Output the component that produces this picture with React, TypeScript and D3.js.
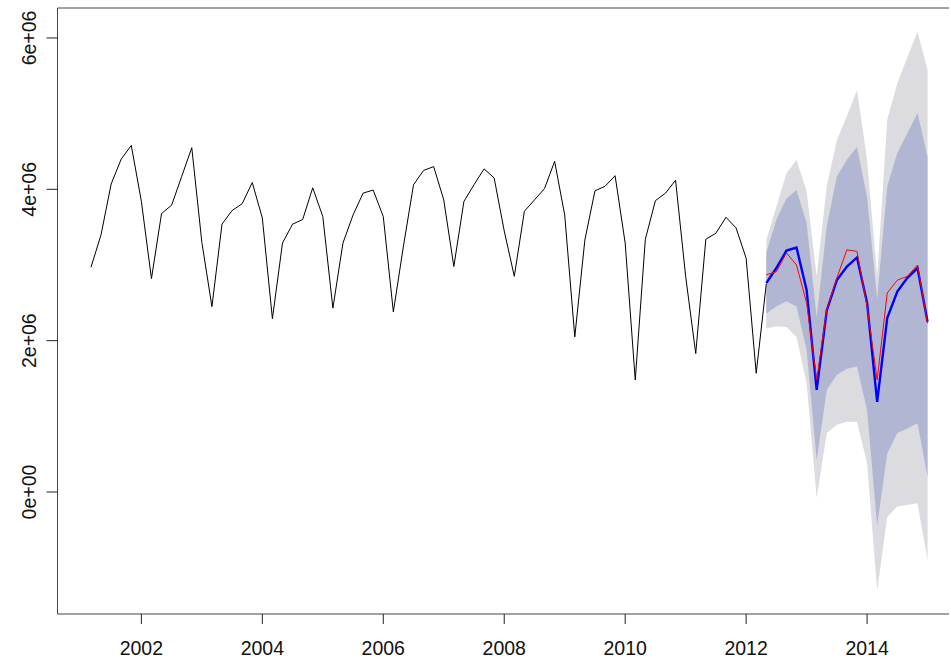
import React from "react";
import * as d3 from "d3";

// Bimonthly series (frequency 6), first observation at 2001 + 1/6
const FREQ = 6;
const OBS_START = 2001 + 1 / 6;
const FC_START = 2012 + 2 / 6;

// Observed values
const observed = [
  2.97e6, 3.4e6, 4.07e6, 4.4e6, 4.58e6, 3.84e6,
  2.82e6, 3.68e6, 3.79e6, 4.17e6, 4.55e6, 3.3e6,
  2.45e6, 3.54e6, 3.72e6, 3.81e6, 4.09e6, 3.62e6,
  2.29e6, 3.29e6, 3.54e6, 3.6e6, 4.02e6, 3.64e6,
  2.43e6, 3.29e6, 3.66e6, 3.95e6, 3.99e6, 3.64e6,
  2.38e6, 3.25e6, 4.06e6, 4.25e6, 4.3e6, 3.86e6,
  2.98e6, 3.84e6, 4.06e6, 4.27e6, 4.15e6, 3.45e6,
  2.85e6, 3.71e6, 3.86e6, 4.01e6, 4.37e6, 3.66e6,
  2.05e6, 3.33e6, 3.98e6, 4.04e6, 4.18e6, 3.29e6,
  1.48e6, 3.34e6, 3.85e6, 3.95e6, 4.12e6, 2.85e6,
  1.83e6, 3.34e6, 3.42e6, 3.63e6, 3.49e6, 3.09e6,
  1.57e6, 2.75e6,
];

// Point forecasts
const fcMean = [
  2.76e6, 2.96e6, 3.19e6, 3.23e6, 2.67e6, 1.35e6, 2.4e6, 2.8e6, 2.98e6,
  3.1e6, 2.5e6, 1.19e6, 2.3e6, 2.65e6, 2.83e6, 2.96e6, 2.25e6,
];

// Actual values over the forecast horizon
const actual = [
  2.87e6, 2.91e6, 3.16e6, 3.0e6, 2.5e6, 1.48e6, 2.41e6, 2.83e6, 3.2e6,
  3.18e6, 2.45e6, 1.48e6, 2.63e6, 2.8e6, 2.85e6, 3.0e6, 2.23e6,
];

// Prediction intervals
const hi95 = [
  3.33e6, 3.77e6, 4.21e6, 4.39e6, 3.97e6, 2.85e6, 4.04e6, 4.65e6, 4.97e6,
  5.31e6, 4.39e6, 2.85e6, 4.92e6, 5.4e6, 5.75e6, 6.08e6, 5.58e6,
];
const hi80 = [
  3.16e6, 3.6e6, 3.88e6, 3.99e6, 3.55e6, 2.31e6, 3.51e6, 4.17e6, 4.39e6,
  4.56e6, 3.9e6, 2.55e6, 4.04e6, 4.48e6, 4.74e6, 5.01e6, 4.43e6,
];
const lo80 = [
  2.36e6, 2.45e6, 2.52e6, 2.45e6, 1.88e6, 0.42e6, 1.35e6, 1.55e6, 1.63e6,
  1.66e6, 1.08e6, -0.44e6, 0.51e6, 0.78e6, 0.84e6, 0.91e6, 0.2e6,
];
const lo95 = [
  2.16e6, 2.19e6, 2.18e6, 2.05e6, 1.44e6, -0.08e6, 0.78e6, 0.89e6, 0.93e6,
  0.93e6, 0.38e6, -1.3e6, -0.33e6, -0.19e6, -0.17e6, -0.15e6, -0.9e6,
];

const xTicks = [2002, 2004, 2006, 2008, 2010, 2012, 2014];
const yTicks = [0, 2e6, 4e6, 6e6];
const yTickLabels = ["0e+00", "2e+06", "4e+06", "6e+06"];

const W = 951;
const H = 661;
const LEFT = 57.5;
const TOP = 8;
const BOTTOM = 614;
const RIGHT = 961;

export default function App() {
  const x = d3.scaleLinear().domain([2000.613, 2015.553]).range([LEFT, RIGHT]);
  const y = d3.scaleLinear().domain([-1.612e6, 6.396e6]).range([BOTTOM, TOP]);

  const obsPts: [number, number][] = observed.map((v, i) => [OBS_START + i / FREQ, v]);
  const fcT = fcMean.map((_, i) => FC_START + i / FREQ);

  const line = d3
    .line<[number, number]>()
    .x((d) => x(d[0]))
    .y((d) => y(d[1]));

  const band95 = d3
    .area<number>()
    .x((_, i) => x(fcT[i]))
    .y0((_, i) => y(lo95[i]))
    .y1((_, i) => y(hi95[i]))(fcMean) as string;
  const band80 = d3
    .area<number>()
    .x((_, i) => x(fcT[i]))
    .y0((_, i) => y(lo80[i]))
    .y1((_, i) => y(hi80[i]))(fcMean) as string;

  const meanPath = line(fcMean.map((v, i) => [fcT[i], v])) as string;
  const actualPath = line(actual.map((v, i) => [fcT[i], v])) as string;
  const obsPath = line(obsPts) as string;

  const font = "'Liberation Sans', Arial, Helvetica, sans-serif";
  const fs = 19.5;

  return (
    <svg
      width={W}
      height={H}
      style={{ position: "absolute", left: 0, top: 0, background: "#fff" }}
    >
      <defs>
        <clipPath id="plot-clip">
          <rect x={LEFT} y={TOP} width={949 - LEFT} height={BOTTOM - TOP} />
        </clipPath>
      </defs>
      <rect x={0} y={0} width={W} height={H} fill="#fff" />
      <g clipPath="url(#plot-clip)">
        <path d={band95} fill="#dbdbe0" stroke="none" />
        <path d={band80} fill="#b1b7d2" stroke="none" />
        <path d={obsPath} fill="none" stroke="#000" strokeWidth={1} />
        <path d={meanPath} fill="none" stroke="#0000ff" strokeWidth={2.4} />
        <path d={actualPath} fill="none" stroke="#ff0000" strokeWidth={1} />
      </g>
      {/* frame, open on the right where the page ends */}
      <path
        d={`M949,${TOP}H${LEFT}V${BOTTOM}H949`}
        fill="none"
        stroke="#444"
        strokeWidth={1}
      />
      {xTicks.map((t) => (
        <g key={t}>
          <line x1={x(t)} x2={x(t)} y1={BOTTOM} y2={BOTTOM + 10} stroke="#222" />
          <text
            x={x(t)}
            y={655}
            textAnchor="middle"
            fontFamily={font}
            fontSize={fs}
            fill="#111"
          >
            {t}
          </text>
        </g>
      ))}
      {yTicks.map((v, i) => (
        <g key={v}>
          <line x1={LEFT - 11} x2={LEFT} y1={y(v)} y2={y(v)} stroke="#222" />
          <text
            transform={`translate(36,${y(v)}) rotate(-90)`}
            textAnchor="middle"
            fontFamily={font}
            fontSize={fs}
            fill="#111"
          >
            {yTickLabels[i]}
          </text>
        </g>
      ))}
    </svg>
  );
}
